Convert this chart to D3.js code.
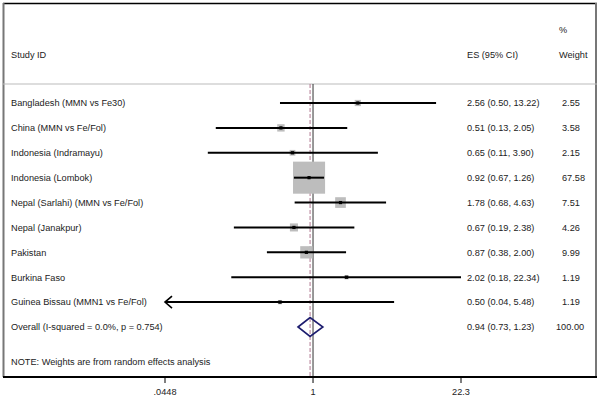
<!DOCTYPE html>
<html><head><meta charset="utf-8">
<script src="https://cdn.jsdelivr.net/npm/d3@7"></script>
<style>body{margin:0;background:#fff}svg{display:block}text{font-family:"Liberation Sans",Arial,sans-serif;font-size:9.2px;fill:#222}</style>
</head><body><svg id="c" width="600" height="403"></svg>
<script>
const studies = ["Bangladesh (MMN vs Fe30)","China (MMN vs Fe/Fol)","Indonesia (Indramayu)","Indonesia (Lombok)","Nepal (Sarlahi) (MMN vs Fe/Fol)","Nepal (Janakpur)","Pakistan","Burkina Faso","Guinea Bissau (MMN1 vs Fe/Fol)"];
const es =    [2.56,0.51,0.65,0.92,1.78,0.67,0.87,2.02,0.50];
const lower = [0.50,0.13,0.11,0.67,0.68,0.19,0.38,0.18,0.04];
const upper = [13.22,2.05,3.90,1.26,4.63,2.38,2.00,22.34,5.48];
const weight = [2.55,3.58,2.15,67.58,7.51,4.26,9.99,1.19,1.19];
const overall = {label:"Overall  (I-squared = 0.0%, p = 0.754)", es:0.94, lower:0.73, upper:1.23, weight:100.00};
const tickValues = [0.0448, 1, 22.3];
const tickLabels = [".0448","1","22.3"];
const note = "NOTE: Weights are from random effects analysis";

(function(){
const svg = d3.select("#c");
const x = d3.scaleLog().domain([0.0448,22.3]).range([165,461]);
const rows = studies.concat([overall.label]);
const y = d3.scalePoint().domain(rows).range([103,327]);
const f2 = d3.format(".2f");
const fTop=3, fBottom=377, fLeft=3, fRight=597, sep=84;

svg.append("line").attr("x1",fLeft).attr("x2",fRight).attr("y1",fTop+0.5).attr("y2",fTop+0.5).attr("stroke","#000").attr("stroke-width",1.5);
svg.append("line").attr("x1",fLeft+0.5).attr("x2",fLeft+0.5).attr("y1",fTop).attr("y2",fBottom).attr("stroke","#777").attr("stroke-width",2);
svg.append("line").attr("x1",fRight-1).attr("x2",fRight-1).attr("y1",fTop).attr("y2",fBottom).attr("stroke","#777").attr("stroke-width",2);
svg.append("line").attr("x1",fLeft).attr("x2",fRight).attr("y1",sep).attr("y2",sep).attr("stroke","#bbb").attr("stroke-width",1);

svg.append("text").attr("x",11).attr("y",58).text("Study ID");
svg.append("text").attr("x",467).attr("y",58).text("ES (95% CI)");
svg.append("text").attr("x",559).attr("y",33).text("%");
svg.append("text").attr("x",559).attr("y",58).text("Weight");

svg.append("line").attr("x1",x(1)).attr("x2",x(1)).attr("y1",sep).attr("y2",fBottom).attr("stroke","#333").attr("stroke-width",1);
svg.append("line").attr("x1",x(overall.es)).attr("x2",x(overall.es)).attr("y1",sep).attr("y2",fBottom).attr("stroke","#b07890").attr("stroke-width",1).attr("stroke-dasharray","4,2");

const [dmin,dmax] = x.domain();
const data = studies.map((s,i)=>({s,es:es[i],lo:lower[i],hi:upper[i],w:weight[i]}));

svg.selectAll("rect.box").data(data).enter().append("rect")
  .attr("fill","#bdbdbd")
  .attr("x",d=>x(d.es)-1.95*Math.sqrt(d.w)).attr("y",d=>y(d.s)-1.95*Math.sqrt(d.w))
  .attr("width",d=>3.9*Math.sqrt(d.w)).attr("height",d=>3.9*Math.sqrt(d.w));
svg.selectAll("line.ci").data(data).enter().append("line")
  .attr("x1",d=>x(Math.max(d.lo,dmin))).attr("x2",d=>x(Math.min(d.hi,dmax)))
  .attr("y1",d=>y(d.s)).attr("y2",d=>y(d.s)).attr("stroke","#000").attr("stroke-width",2);
data.filter(d=>d.lo<dmin).forEach(d=>{
  const x0=x(dmin), yy=y(d.s);
  svg.append("path").attr("d",`M${x0+7},${yy-6}L${x0},${yy}L${x0+7},${yy+6}`).attr("fill","none").attr("stroke","#000").attr("stroke-width",1.6);
});
svg.selectAll("rect.dot").data(data).enter().append("rect")
  .attr("x",d=>x(d.es)-1.6).attr("y",d=>y(d.s)-1.6).attr("width",3.2).attr("height",3.2).attr("fill","#000");

const yo=y(overall.label);
svg.append("path").attr("d",`M${x(overall.lower)},${yo}L${x(overall.es)},${yo-9.5}L${x(overall.upper)},${yo}L${x(overall.es)},${yo+9.5}Z`)
  .attr("fill","none").attr("stroke","#1c1c6e").attr("stroke-width",1.6);

const all = data.concat([{s:overall.label,es:overall.es,lo:overall.lower,hi:overall.upper,w:overall.weight}]);
svg.selectAll("text.lab").data(all).enter().append("text").attr("x",11).attr("y",d=>y(d.s)+3.3).text(d=>d.s);
svg.selectAll("text.es").data(all).enter().append("text").attr("x",467).attr("y",d=>y(d.s)+3.3).text(d=>`${f2(d.es)} (${f2(d.lo)}, ${f2(d.hi)})`);
svg.selectAll("text.w").data(all).enter().append("text").attr("x",d=>d.w>=100?556:562).attr("y",d=>y(d.s)+3.3).text(d=>f2(d.w));
svg.append("text").attr("x",11).attr("y",365).text(note);

const ax = svg.append("g").attr("transform",`translate(0,${fBottom})`);
ax.append("line").attr("x1",fLeft).attr("x2",fRight).attr("stroke","#000").attr("stroke-width",2);
ax.selectAll("line.t").data(tickValues).enter().append("line").attr("x1",d=>x(d)).attr("x2",d=>x(d)).attr("y1",0).attr("y2",6).attr("stroke","#000");
ax.selectAll("text.t").data(tickValues).enter().append("text").attr("x",d=>x(d)).attr("y",18).attr("text-anchor","middle").text((d,i)=>tickLabels[i]);
})();
</script></body></html>
